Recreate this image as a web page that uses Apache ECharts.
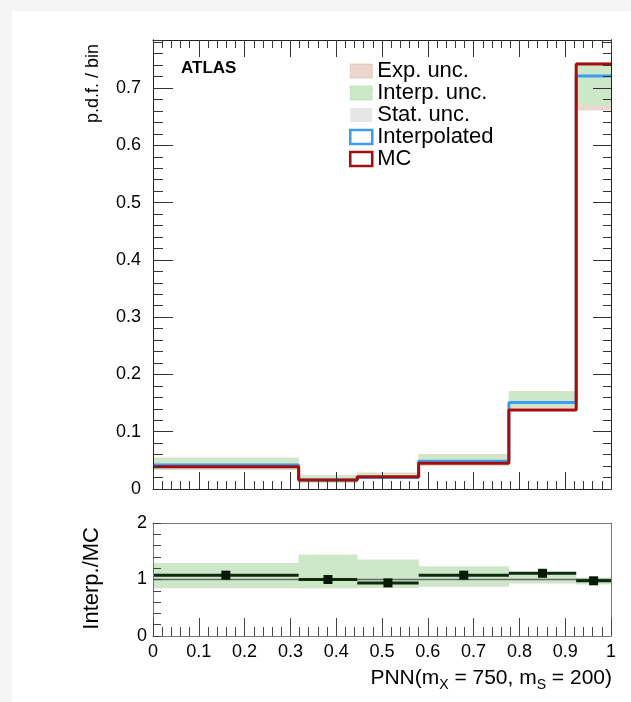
<!DOCTYPE html>
<html><head><meta charset="utf-8">
<script src="https://cdn.jsdelivr.net/npm/echarts@6/dist/echarts.min.js"></script>
<style>
html,body{margin:0;padding:0;background:#f5f5f5;width:631px;height:702px;overflow:hidden;}
#bg{position:absolute;left:12px;top:11px;width:619px;height:691px;background:#fff;}
#chart{position:absolute;left:0;top:0;width:631px;height:702px;}
</style></head><body>
<div id="bg"></div><div id="chart"></div>
<script>
// ---- data ----
const binEdges = [0, 0.318, 0.446, 0.58, 0.777, 0.924, 1];
const mcValues = [0.039, 0.0155, 0.0215, 0.045, 0.138, 0.742];
const interpValues = [0.042, 0.0157, 0.0202, 0.0485, 0.151, 0.721];
const interpUncLow = [0.034, 0.011, 0.0175, 0.041, 0.1435, 0.670];
const interpUncHigh = [0.054, 0.023, 0.028, 0.060, 0.170, 0.742];
const expUncLow = [0.033, 0.010, 0.017, 0.040, 0.141, 0.661];
const expUncHigh = [0.055, 0.024, 0.029, 0.061, 0.171, 0.745];
const ratioValues = [1.077, 1.00, 0.94, 1.077, 1.11, 0.977];
const ratioInterpLow = [0.86, 0.85, 0.86, 0.88, 0.94, 0.92];
const ratioInterpHigh = [1.29, 1.44, 1.35, 1.23, 1.125, 1.03];
const ratioExpLow = [0.845, 0.84, 0.85, 0.87, 0.93, 0.91];
const ratioExpHigh = [1.29, 1.44, 1.35, 1.23, 1.125, 1.03];
const ratioReference = 1;
const xTickLabels = ['0','0.1','0.2','0.3','0.4','0.5','0.6','0.7','0.8','0.9','1'];

const FONT = '"Liberation Sans", Arial, Helvetica, sans-serif';
const C_BLUE = '#3d9cf0', C_RED = '#a80c0c';
const C_EXP = '#ebd7cd', C_INT = '#cde8c9', C_STAT = '#e6e6e6';

function stepData(vals){ const d=[]; vals.forEach((v,i)=>{d.push([binEdges[i],v]); d.push([binEdges[i+1],v]);}); return d; }
function bandData(lo,hi){ return lo.map((l,i)=>[binEdges[i],binEdges[i+1],l,hi[i]]); }
function bandRender(color){
  return function(params, api){
    const a = api.coord([api.value(0), api.value(3)]);
    const b = api.coord([api.value(1), api.value(2)]);
    return {type:'rect', shape:{x:a[0], y:a[1], width:b[0]-a[0], height:b[1]-a[1]}, style:{fill:color}};
  };
}
function segRender(params, api){
  const a = api.coord([api.value(0), api.value(2)]);
  const b = api.coord([api.value(1), api.value(2)]);
  return {type:'line', shape:{x1:a[0], y1:a[1], x2:b[0], y2:b[1]}, style:{stroke:'#0c2a0c', lineWidth:3}};
}

const chart = echarts.init(document.getElementById('chart'), null, {renderer:'canvas'});
const frameTop = '#222', frameBot = '#777';
function xax(grid, pos, opts){
  return Object.assign({type:'value', gridIndex:grid, position:pos, min:0, max:1, interval:0.1, z:10,
    axisLine:{show:true, onZero:false, lineStyle:{color: grid===0?frameTop:frameBot, width:1}},
    splitLine:{show:false}, axisLabel:{show:false}}, opts);
}
function yax(grid, pos, max, opts){
  return Object.assign({type:'value', gridIndex:grid, position:pos, min:0, max:max, z:10,
    axisLine:{show:true, onZero:false, lineStyle:{color: grid===0?frameTop:frameBot, width:1}},
    splitLine:{show:false}, axisLabel:{show:false}}, opts);
}
const tickTop = {show:true, inside:true, length:17, lineStyle:{color:'#333'}};
const minorTop = {show:true, splitNumber:5, length:8, lineStyle:{color:'#333'}};
const YMAX = 0.784;

const option = {
  animation:false,
  grid:[
    {left:153, top:40, width:458, height:449},
    {left:153, top:523, width:458, height:113}
  ],
  xAxis:[
    xax(0,'bottom',{axisTick:tickTop, minorTick:minorTop}),
    xax(0,'top',{axisTick:tickTop, minorTick:minorTop}),
    xax(1,'bottom',{axisTick:{show:true, inside:true, length:18, lineStyle:{color:'#444'}},
      minorTick:{show:true, splitNumber:5, length:9, lineStyle:{color:'#444'}},
      axisLabel:{show:true, margin:7, fontSize:18, fontFamily:FONT, color:'#000',
        formatter:(v)=>xTickLabels[Math.round(v*10)]}}),
    xax(1,'top',{axisTick:{show:false}})
  ],
  yAxis:[
    yax(0,'left',YMAX,{interval:0.1, axisTick:{show:true, inside:true, length:20, lineStyle:{color:'#333'}},
      axisLabel:{show:true, margin:12, fontSize:18, fontFamily:FONT, color:'#000', showMaxLabel:false}}),
    yax(0,'left',YMAX,{interval:0.02, axisTick:{show:true, inside:true, length:10, lineStyle:{color:'#333'}}}),
    yax(0,'right',YMAX,{interval:0.1, axisTick:{show:true, inside:true, length:18, lineStyle:{color:'#333'}}}),
    yax(0,'right',YMAX,{interval:0.02, axisTick:{show:true, inside:true, length:8, lineStyle:{color:'#333'}}}),
    yax(1,'left',2,{interval:1, axisTick:{show:true, inside:true, length:8, lineStyle:{color:'#444'}},
      minorTick:{show:true, splitNumber:5, length:8, lineStyle:{color:'#444'}},
      axisLabel:{show:true, margin:6, fontSize:18, fontFamily:FONT, color:'#000'}}),
    yax(1,'right',2,{interval:1, axisTick:{show:false}})
  ],
  legend:{
    orient:'vertical', left:349, top:60, padding:0, itemWidth:22, itemHeight:14, itemGap:0,
    selectedMode:false,
    textStyle:{fontFamily:FONT, fontSize:22, color:'#000', lineHeight:21},
    data:[
      {name:'Exp. unc.', icon:'rect', itemStyle:{color:C_EXP, borderColor:'#d9ab96', borderWidth:1, borderType:'dotted'}},
      {name:'Interp. unc.', icon:'rect', itemStyle:{color:C_INT, borderColor:'#9fd49a', borderWidth:1, borderType:'dotted'}},
      {name:'Stat. unc.', icon:'rect', itemStyle:{color:C_STAT, borderWidth:0}},
      {name:'Interpolated', icon:'rect', itemStyle:{color:'#fff', borderColor:C_BLUE, borderWidth:2.5}},
      {name:'MC', icon:'rect', itemStyle:{color:'#fff', borderColor:C_RED, borderWidth:2.5}}
    ]
  },
  series:[
    {name:'Exp. unc.', type:'custom', xAxisIndex:0, yAxisIndex:0, renderItem:bandRender(C_EXP),
      encode:{x:[0,1], y:[2,3]}, data:bandData(expUncLow, expUncHigh), itemStyle:{color:C_EXP}, z:1},
    {name:'Interp. unc.', type:'custom', xAxisIndex:0, yAxisIndex:0, renderItem:bandRender(C_INT),
      encode:{x:[0,1], y:[2,3]}, data:bandData(interpUncLow, interpUncHigh), itemStyle:{color:C_INT}, z:1},
    {name:'Stat. unc.', type:'custom', xAxisIndex:0, yAxisIndex:0, renderItem:bandRender(C_STAT),
      encode:{x:[0,1], y:[2,3]}, data:[], itemStyle:{color:C_STAT}, z:1},
    {name:'Interpolated', type:'line', xAxisIndex:0, yAxisIndex:0, data:stepData(interpValues),
      symbol:'none', lineStyle:{color:C_BLUE, width:3}, itemStyle:{color:C_BLUE}, z:3},
    {name:'MC', type:'line', xAxisIndex:0, yAxisIndex:0, data:stepData(mcValues),
      symbol:'none', lineStyle:{color:C_RED, width:3}, itemStyle:{color:C_RED}, z:4},
    // ratio panel
    {name:'Exp. unc.', type:'custom', xAxisIndex:2, yAxisIndex:4, renderItem:bandRender(C_EXP),
      encode:{x:[0,1], y:[2,3]}, data:bandData(ratioExpLow, ratioExpHigh), z:1},
    {name:'Interp. unc.', type:'custom', xAxisIndex:2, yAxisIndex:4, renderItem:bandRender(C_INT),
      encode:{x:[0,1], y:[2,3]}, data:bandData(ratioInterpLow, ratioInterpHigh), z:1},
    {name:'ref', type:'line', xAxisIndex:2, yAxisIndex:4, data:[[0,ratioReference],[1,ratioReference]],
      symbol:'none', lineStyle:{color:'#666', width:1.5}, z:2},
    {name:'ratioSeg', type:'custom', xAxisIndex:2, yAxisIndex:4, renderItem:segRender,
      encode:{x:[0,1], y:2}, data:ratioValues.map((r,i)=>[binEdges[i],binEdges[i+1],r]), z:3},
    {name:'ratio', type:'scatter', xAxisIndex:2, yAxisIndex:4, symbol:'rect', symbolSize:9,
      itemStyle:{color:'#061a06', opacity:1}, data:ratioValues.map((r,i)=>[(binEdges[i]+binEdges[i+1])/2, r]), z:4}
  ],
  graphic:[
    {type:'text', left:181, top:60, z:20, style:{text:'ATLAS', font:'bold 17px '+FONT, fill:'#000'}},
    {type:'text', x:93, y:44, rotation:Math.PI/2, z:20,
      style:{text:'p.d.f. / bin', font:'18px '+FONT, fill:'#000', align:'right', verticalAlign:'middle'}},
    {type:'text', x:92, y:527, rotation:Math.PI/2, z:20,
      style:{text:'Interp./MC', font:'22px '+FONT, fill:'#000', align:'right', verticalAlign:'middle'}},
    {type:'text', x:612, y:678, z:20,
      style:{text:'{b|PNN(m}{s|X}{b| = 750, m}{s|S}{b| = 200)}', align:'right', verticalAlign:'middle',
        rich:{
          b:{fontFamily:FONT, fontSize:21, lineHeight:22, verticalAlign:'middle', fill:'#000', color:'#000'},
          s:{fontFamily:FONT, fontSize:14, lineHeight:14, padding:[14,0,0,0], verticalAlign:'middle', fill:'#000', color:'#000'}
        }}}
  ]
};
chart.setOption(option);
</script>
</body></html>
